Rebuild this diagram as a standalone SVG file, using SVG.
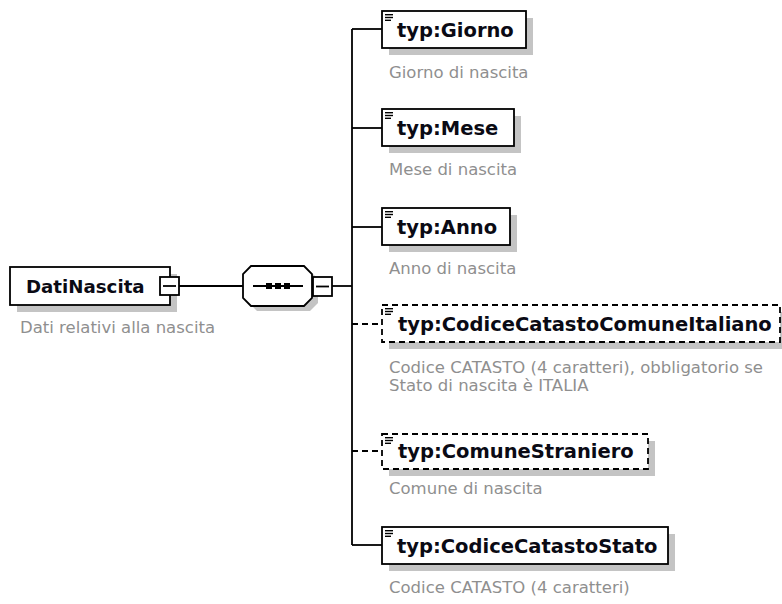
<svg xmlns="http://www.w3.org/2000/svg" width="782" height="604" viewBox="0 0 782 604">
<defs>
<style>
.bg{fill:#fff}
.shadow{fill:#c4c4c4;stroke:none}
.box{fill:#fff;stroke:#000;stroke-width:1.8}
.dbox{fill:#fff;stroke:#000;stroke-width:1.8;stroke-dasharray:6,4}
.name{font-family:"DejaVu Sans",Verdana,sans-serif;font-weight:bold;font-size:19.5px;fill:#0a0a14}
.desc{font-family:"DejaVu Sans",Verdana,sans-serif;font-size:16.5px;fill:#8f8f8f}
.ln{stroke:#000;stroke-width:1.8;fill:none}
.dln{stroke:#000;stroke-width:1.8;fill:none;stroke-dasharray:6,4}
.ico{stroke:#000;stroke-width:1.4}
</style>
<g id="icon"><line class="ico" x1="0" y1="0.7" x2="8" y2="0.7"/><line class="ico" x1="0" y1="3.5" x2="8" y2="3.5"/><line class="ico" x1="0" y1="6.3" x2="6" y2="6.3"/></g>
</defs>
<rect class="bg" x="0" y="0" width="782" height="604"/>

<g id="connectors">
<line class="ln" x1="179" y1="286" x2="243" y2="286"/>
<line class="ln" x1="332" y1="286" x2="352" y2="286"/>
<line class="ln" x1="352" y1="29" x2="352" y2="545"/>
<line class="ln" x1="352" y1="29" x2="382" y2="29"/>
<line class="ln" x1="352" y1="128" x2="382" y2="128"/>
<line class="ln" x1="352" y1="227" x2="382" y2="227"/>
<line class="dln" x1="352" y1="324" x2="382" y2="324"/>
<line class="dln" x1="352" y1="451" x2="382" y2="451"/>
<line class="ln" x1="352" y1="545" x2="382" y2="545"/>
</g>

<g id="DatiNascita">
<rect class="shadow" x="17" y="274" width="160" height="38"/>
<rect class="box" x="10" y="267" width="160" height="38"/>
<text class="name" x="26" y="293" style="font-size:18.2px">DatiNascita</text>
<rect class="box" x="160" y="277" width="19" height="18"/>
<line class="ln" x1="163" y1="286" x2="176" y2="286"/>
<text class="desc" x="20" y="333">Dati relativi alla nascita</text>
</g>

<g id="sequence">
<polygon class="shadow" points="257,271 310,271 318,279 318,303 310,311 257,311 249,303 249,279"/>
<polygon class="box" points="251,266 304,266 312,274 312,298 304,306 251,306 243,298 243,274"/>
<line class="ln" x1="253" y1="286" x2="303" y2="286"/>
<rect x="266" y="283" width="6" height="6" fill="#000"/>
<rect x="275" y="283" width="6" height="6" fill="#000"/>
<rect x="284" y="283" width="6" height="6" fill="#000"/>
<rect class="box" x="313" y="277" width="19" height="19"/>
<line class="ln" x1="316" y1="286.5" x2="329" y2="286.5"/>
</g>

<g id="Giorno">
<rect class="shadow" x="389" y="18" width="144" height="37"/>
<rect class="box" x="382" y="11" width="144" height="37"/>
<use href="#icon" x="385" y="14"/>
<text class="name" x="397" y="37">typ:Giorno</text>
<text class="desc" x="389" y="78">Giorno di nascita</text>
</g>

<g id="Mese">
<rect class="shadow" x="389" y="116" width="132" height="37"/>
<rect class="box" x="382" y="109" width="132" height="37"/>
<use href="#icon" x="385" y="112"/>
<text class="name" x="397" y="135">typ:Mese</text>
<text class="desc" x="389" y="175">Mese di nascita</text>
</g>

<g id="Anno">
<rect class="shadow" x="389" y="215" width="128" height="37"/>
<rect class="box" x="382" y="208" width="128" height="37"/>
<use href="#icon" x="385" y="211"/>
<text class="name" x="397" y="234">typ:Anno</text>
<text class="desc" x="389" y="274">Anno di nascita</text>
</g>

<g id="CodiceCatastoComuneItaliano">
<rect class="shadow" x="389" y="312" width="398" height="37"/>
<rect class="dbox" x="382" y="305" width="398" height="37"/>
<use href="#icon" x="385" y="308"/>
<text class="name" x="398" y="331">typ:CodiceCatastoComuneItaliano</text>
<text class="desc" x="389" y="373">Codice CATASTO (4 caratteri), obbligatorio se</text>
<text class="desc" x="389" y="391">Stato di nascita è ITALIA</text>
</g>

<g id="ComuneStraniero">
<rect class="shadow" x="389" y="441" width="266" height="35"/>
<rect class="dbox" x="382" y="434" width="266" height="35"/>
<use href="#icon" x="385" y="437"/>
<text class="name" x="398" y="458">typ:ComuneStraniero</text>
<text class="desc" x="389" y="494">Comune di nascita</text>
</g>

<g id="CodiceCatastoStato">
<rect class="shadow" x="389" y="534" width="286" height="37"/>
<rect class="box" x="382" y="527" width="286" height="37"/>
<use href="#icon" x="385" y="530"/>
<text class="name" x="397" y="553">typ:CodiceCatastoStato</text>
<text class="desc" x="389" y="593">Codice CATASTO (4 caratteri)</text>
</g>
</svg>
